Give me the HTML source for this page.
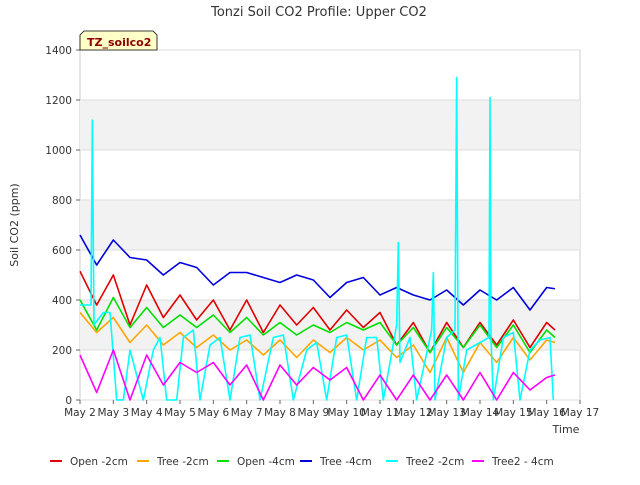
<!DOCTYPE html>
<html><head><meta charset="utf-8"><style>
body{margin:0;background:#fff;font-family:"Liberation Sans","DejaVu Sans",sans-serif}
svg text{font-family:"DejaVu Sans","Liberation Sans",sans-serif}
</style></head><body>
<svg id="c" width="640" height="480" xmlns="http://www.w3.org/2000/svg">
<text x="319" y="16" text-anchor="middle" font-size="13" fill="#333">Tonzi Soil CO2 Profile: Upper CO2</text>
<g id="grid"></g><g id="series"></g><g id="axes"></g>
<text x="18" y="225" transform="rotate(-90 18 225)" text-anchor="middle" font-size="11" fill="#333">Soil CO2 (ppm)</text>
<text x="566" y="433" text-anchor="middle" font-size="11" fill="#333">Time</text>
<g><path d="M80,50 L80,35 L84,31 L153,31 L157,35 L157,50 Z" fill="#ffffc8" stroke="#000" stroke-width="0.8"/><text x="87" y="46" font-size="11" font-weight="bold" fill="#8b0000">TZ_soilco2</text></g>
<g id="legend"></g>
</svg>
<script>
const xTickLabels=["May 2","May 3","May 4","May 5","May 6","May 7","May 8","May 9","May 10","May 11","May 12","May 13","May 14","May 15","May 16","May 17"];
const yTicks=[0,200,400,600,800,1000,1200,1400];
const halfDays=[0,0.5,1,1.5,2,2.5,3,3.5,4,4.5,5,5.5,6,6.5,7,7.5,8,8.5,9,9.5,10,10.5,11,11.5,12,12.5,13,13.5,14,14.25];
const openM2=[515,380,500,300,460,330,420,320,400,280,400,270,380,300,370,280,360,290,350,220,310,190,310,210,310,220,320,210,310,280];
const treeM2=[350,270,330,230,300,220,270,210,260,200,240,180,240,170,240,190,250,200,240,170,220,110,250,110,230,150,250,160,240,230];
const openM4=[400,280,410,290,370,290,340,290,340,270,330,260,310,260,300,270,310,280,310,220,290,190,290,210,300,210,300,190,280,250];
const treeM4=[660,540,640,570,560,500,550,530,460,510,510,490,470,500,480,410,470,490,420,450,420,400,440,380,440,400,450,360,450,445];
const tree2M4=[180,30,200,0,180,60,150,110,150,60,140,0,140,60,130,80,130,0,100,0,100,0,100,0,110,0,110,40,90,100];
const cyanDays=[0,0.33,0.37,0.42,0.7,0.9,1.1,1.3,1.5,1.7,1.9,2.2,2.4,2.6,2.9,3.1,3.4,3.6,3.9,4.2,4.5,4.8,5.1,5.4,5.8,6.1,6.4,6.8,7.1,7.4,7.7,8,8.3,8.6,8.9,9.1,9.5,9.55,9.6,9.9,10.1,10.55,10.6,10.65,11,11.25,11.3,11.35,11.6,12.27,12.3,12.33,12.4,12.7,13,13.2,13.5,13.8,14.1,14.2];
const tree2M2=[380,380,1120,300,350,350,0,0,200,100,0,200,250,0,0,250,280,0,220,250,0,250,260,0,250,260,0,200,230,0,250,260,0,250,250,0,300,630,150,250,0,280,510,0,250,280,1290,0,200,250,1210,250,0,250,270,0,200,240,250,0];
const names=["Open -2cm","Tree -2cm","Open -4cm","Tree -4cm","Tree2 -2cm","Tree2 - 4cm"];
const colors=["#e00000","#ffa500","#00e000","#0000dd","#00ffff","#ff00ff"];
const X0=80,X1=580,Y0=400,Y1=50;
const xs=d=>X0+d*(X1-X0)/15, ys=v=>Y0-v*(Y0-Y1)/1400;
const NS="http://www.w3.org/2000/svg";
function mk(t,p,a){const e=document.createElementNS(NS,t);for(const k in a)e.setAttribute(k,a[k]);p.appendChild(e);return e;}
const grid=document.getElementById('grid');
mk('rect',grid,{x:X0,y:Y1,width:X1-X0,height:Y0-Y1,fill:'#fff',stroke:'#ccc'});
for(let i=0;i<yTicks.length-1;i++){if(i%2==1){const r=mk('rect',grid,{x:X0,y:ys(yTicks[i+1]),width:X1-X0,height:ys(yTicks[i])-ys(yTicks[i+1]),fill:'#f2f2f2'});

}}
const axes=document.getElementById('axes');
yTicks.forEach(v=>{mk('line',grid,{x1:X0,x2:X1,y1:ys(v),y2:ys(v),stroke:'#ddd'});
const t=mk('text',axes,{x:X0-8,y:ys(v)+4,'text-anchor':'end','font-size':10.5,fill:'#333'});t.textContent=v;


mk('line',axes,{x1:X0-4,x2:X0,y1:ys(v),y2:ys(v),stroke:'#666'});});
xTickLabels.forEach((l,i)=>{const t=mk('text',axes,{x:xs(i),y:Y0+16,'text-anchor':'middle','font-size':10.5,fill:'#333'});t.textContent=l;


mk('line',axes,{x1:xs(i),x2:xs(i),y1:Y0,y2:Y0+4,stroke:'#666'});});
const ser=document.getElementById('series');
function line(days,vals,c,name){const p=mk('polyline',ser,{points:days.map((d,i)=>xs(d)+','+ys(vals[i])).join(' '),fill:'none',stroke:c,'stroke-width':1.6,'stroke-linejoin':'round'});

}
line(halfDays,openM2,colors[0],'series-open-2cm');
line(halfDays,treeM2,colors[1],'series-tree-2cm');
line(halfDays,openM4,colors[2],'series-open-4cm');
line(halfDays,treeM4,colors[3],'series-tree-4cm');
line(cyanDays,tree2M2,colors[4],'series-tree2-2cm');
line(halfDays,tree2M4,colors[5],'series-tree2-4cm');
const lg=document.getElementById('legend');
const lx=[50,137,217,300,386,472];
names.forEach((n,i)=>{const g=mk('g',lg,{});


mk('line',g,{x1:lx[i],x2:lx[i]+12,y1:461,y2:461,stroke:colors[i],'stroke-width':2});
const t=mk('text',g,{x:lx[i]+20,y:465,'font-size':10.5,fill:'#333'});t.textContent=n;});
</script>
</body></html>
